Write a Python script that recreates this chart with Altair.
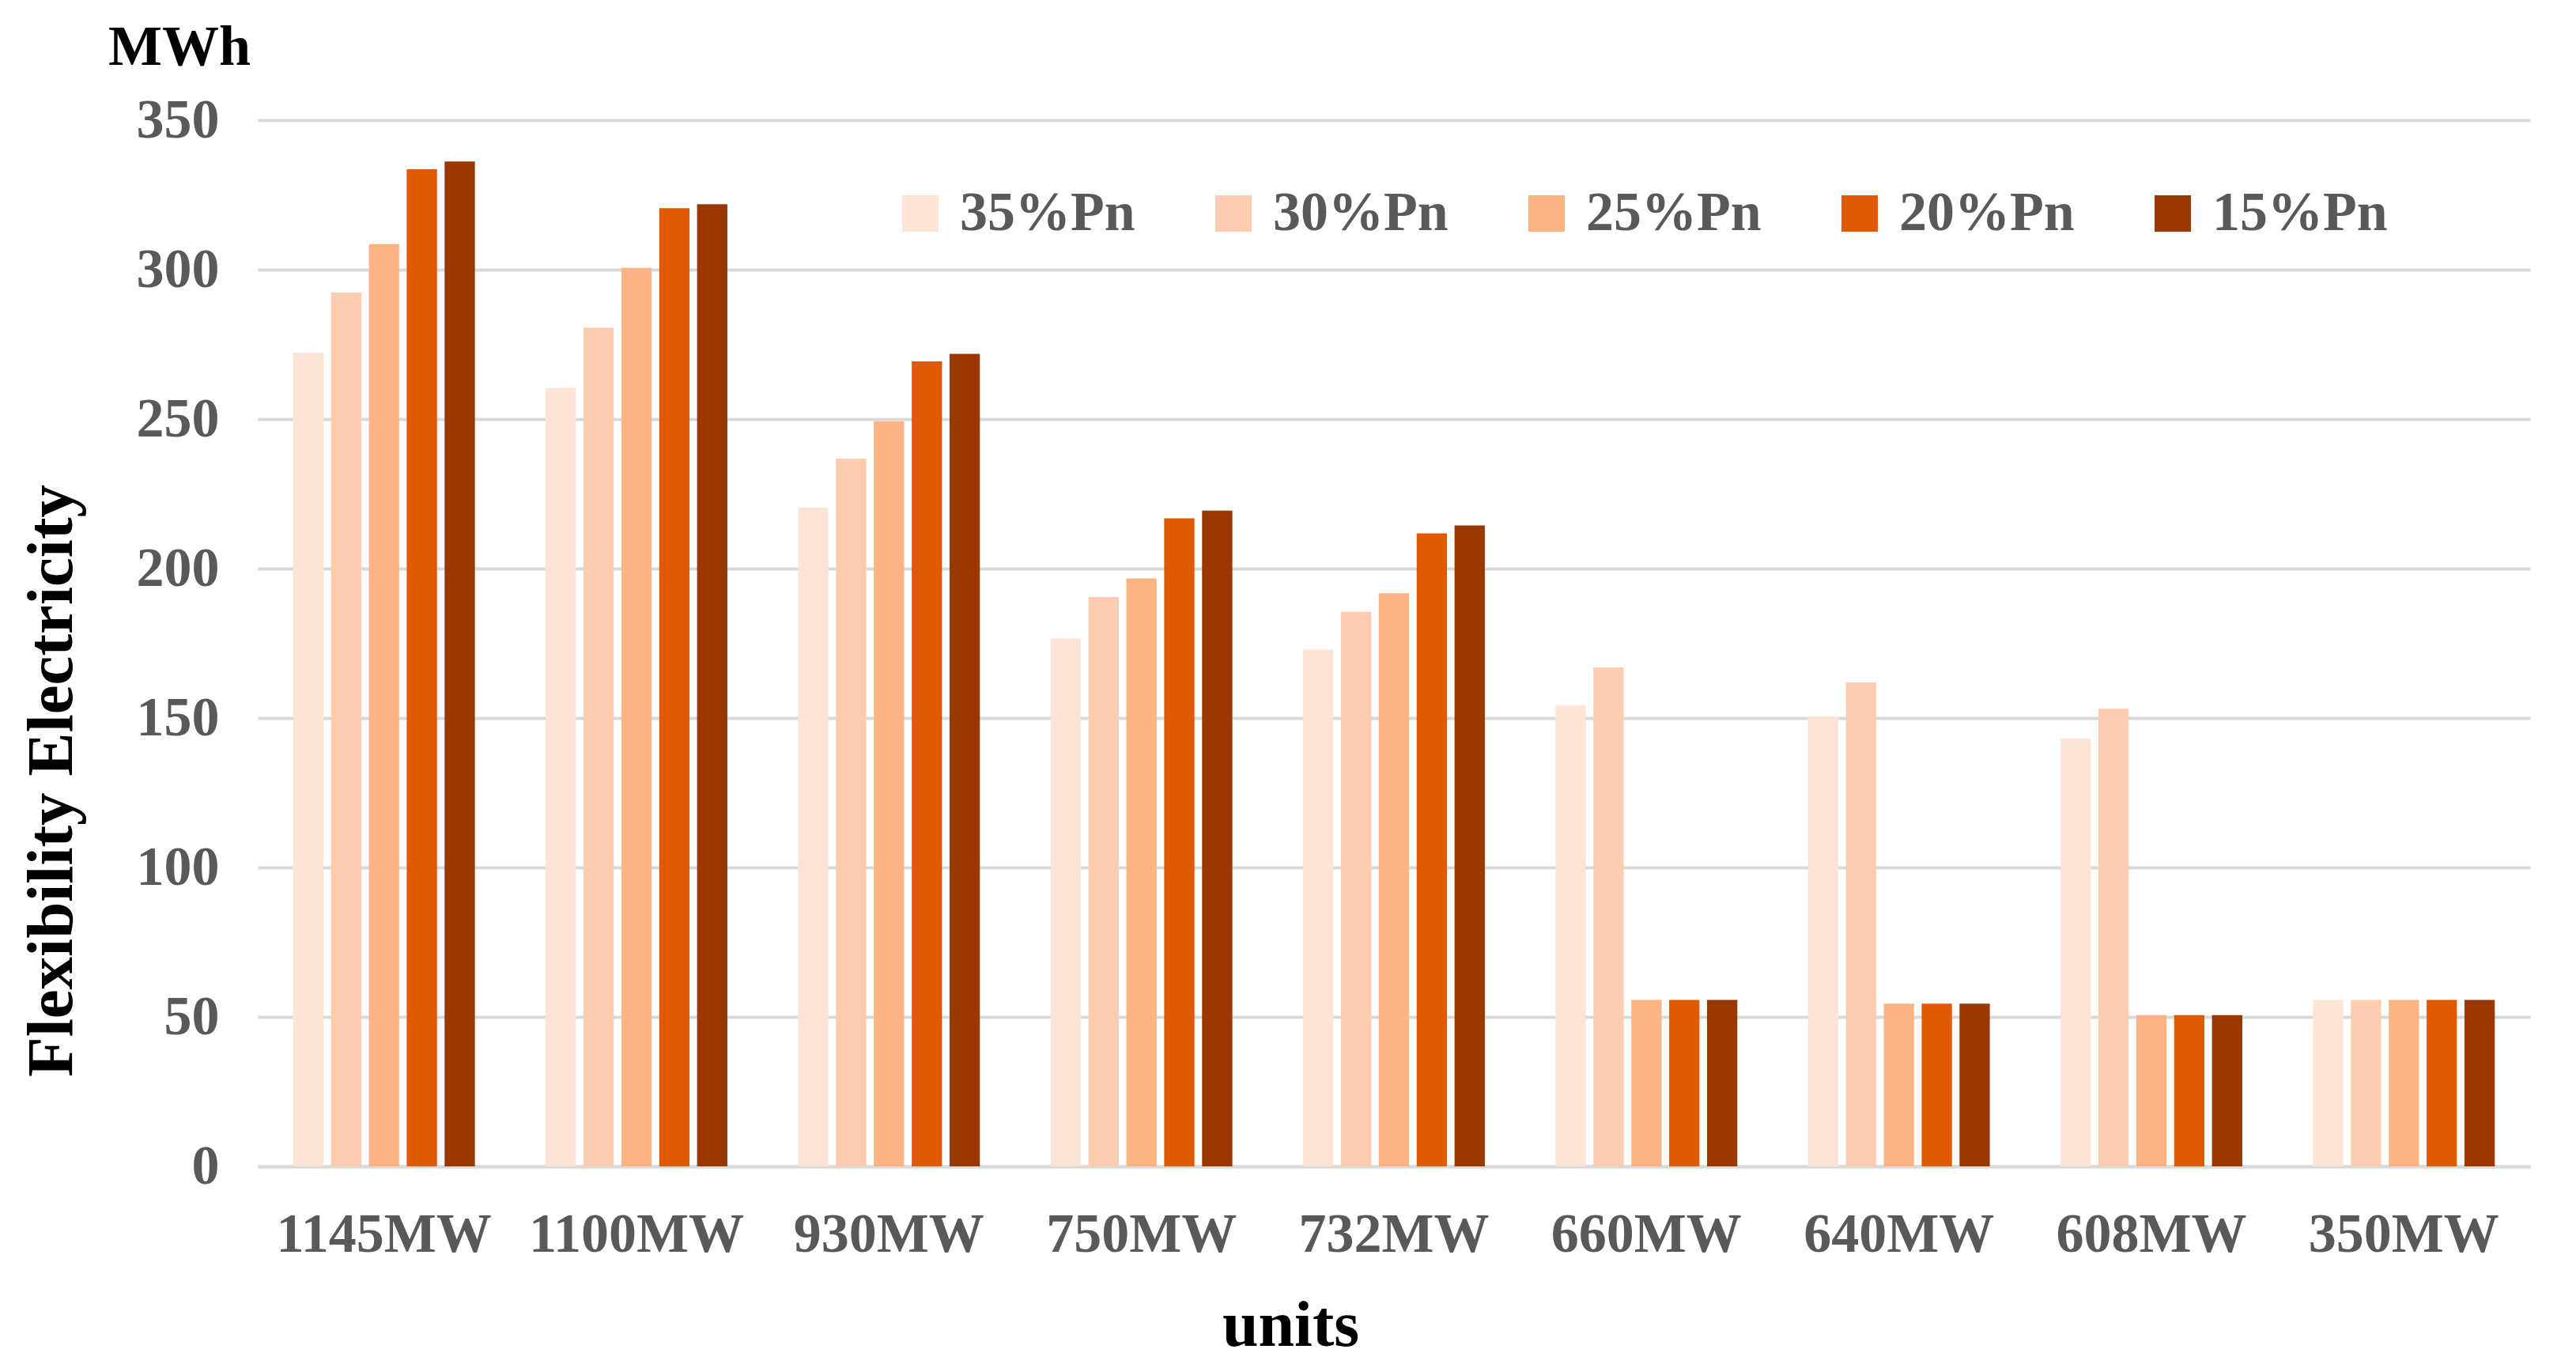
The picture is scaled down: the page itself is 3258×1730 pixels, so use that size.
import altair as alt
import pandas as pd

units = ["1145MW", "1100MW", "930MW", "750MW", "732MW", "660MW", "640MW", "608MW", "350MW"]
series = ["35%Pn", "30%Pn", "25%Pn", "20%Pn", "15%Pn"]
v35 = [272.2, 260.4, 220.4, 176.6, 172.9, 154.3, 150.5, 143.1, 55.7]
v30 = [292.3, 280.6, 236.8, 190.5, 185.5, 166.9, 161.9, 153.1, 55.7]
v25 = [308.5, 300.6, 249.3, 196.7, 191.7, 55.7, 54.4, 50.6, 55.7]
v20 = [333.6, 320.6, 269.3, 216.8, 211.8, 55.7, 54.4, 50.6, 55.7]
v15 = [336.2, 321.9, 271.8, 219.4, 214.4, 55.7, 54.4, 50.6, 55.7]
y_ticks = [0, 50, 100, 150, 200, 250, 300, 350]
colors = ["#FEE4D6", "#FECCAE", "#FEB383", "#E05A00", "#993800"]

rows = []
for s, vals in zip(series, [v35, v30, v25, v20, v15]):
    for u, v in zip(units, vals):
        rows.append({"unit": u, "series": s, "value": v})
df = pd.DataFrame(rows)

FONT = "Liberation Serif"
LABEL_COLOR = "#595959"

chart = alt.Chart(df).mark_bar().encode(
    x=alt.X(
        "unit:N",
        sort=units,
        scale=alt.Scale(paddingInner=0.28, paddingOuter=0.14),
        axis=alt.Axis(
            title="units",
            labelAngle=0,
            labelFont=FONT,
            labelFontSize=70,
            labelFontWeight="bold",
            labelColor=LABEL_COLOR,
            labelPadding=52,
            labelLimit=0,
            ticks=False,
            domain=True,
            domainColor="#d9d9d9",
            domainWidth=4,
            titleFont=FONT,
            titleFontSize=82,
            titleFontWeight="bold",
            titleColor="#000000",
            titleX=1306,
            titleY=226,
            titleAlign="center",
            titleBaseline="alphabetic",
        ),
    ),
    xOffset=alt.XOffset(
        "series:N",
        sort=series,
        scale=alt.Scale(paddingInner=0.2, paddingOuter=0),
    ),
    y=alt.Y(
        "value:Q",
        scale=alt.Scale(domain=[0, 350], nice=False),
        axis=alt.Axis(
            values=y_ticks,
            title="Flexibility Electricity",
            labelFont=FONT,
            labelFontSize=70,
            labelFontWeight="bold",
            labelColor=LABEL_COLOR,
            labelPadding=49,
            labelLimit=0,
            ticks=False,
            domain=False,
            grid=True,
            gridColor="#d9d9d9",
            gridWidth=4,
            titleFont=FONT,
            titleFontSize=83,
            titleFontWeight="bold",
            titleColor="#000000",
            titleAngle=270,
            titleX=-236,
            titleY=835,
            titleAlign="center",
            titleBaseline="alphabetic",
        ),
    ),
    color=alt.Color(
        "series:N",
        sort=series,
        scale=alt.Scale(domain=series, range=colors),
        legend=alt.Legend(
            title=None,
            orient="none",
            direction="horizontal",
            legendX=803,
            legendY=83,
            padding=0,
            symbolType="square",
            symbolSize=2116,
            symbolStrokeWidth=0,
            labelFont=FONT,
            labelFontSize=70,
            labelFontWeight="bold",
            labelColor=LABEL_COLOR,
            labelOffset=15,
            labelLimit=0,
            columnPadding=89,
        ),
    ),
).properties(
    width=2874,
    height=1323,
    autosize="none",
    padding={"left": 318, "top": 144, "right": 40, "bottom": 250},
    title=alt.Title(
        "MWh",
        anchor="start",
        frame="group",
        font=FONT,
        fontSize=72,
        fontWeight="bold",
        color="#000000",
        dx=-189,
        dy=67,
        baseline="alphabetic",
        offset=30,
    ),
).configure_view(stroke=None)

chart.save("out.html", embed_options={"renderer": "svg", "actions": False})
